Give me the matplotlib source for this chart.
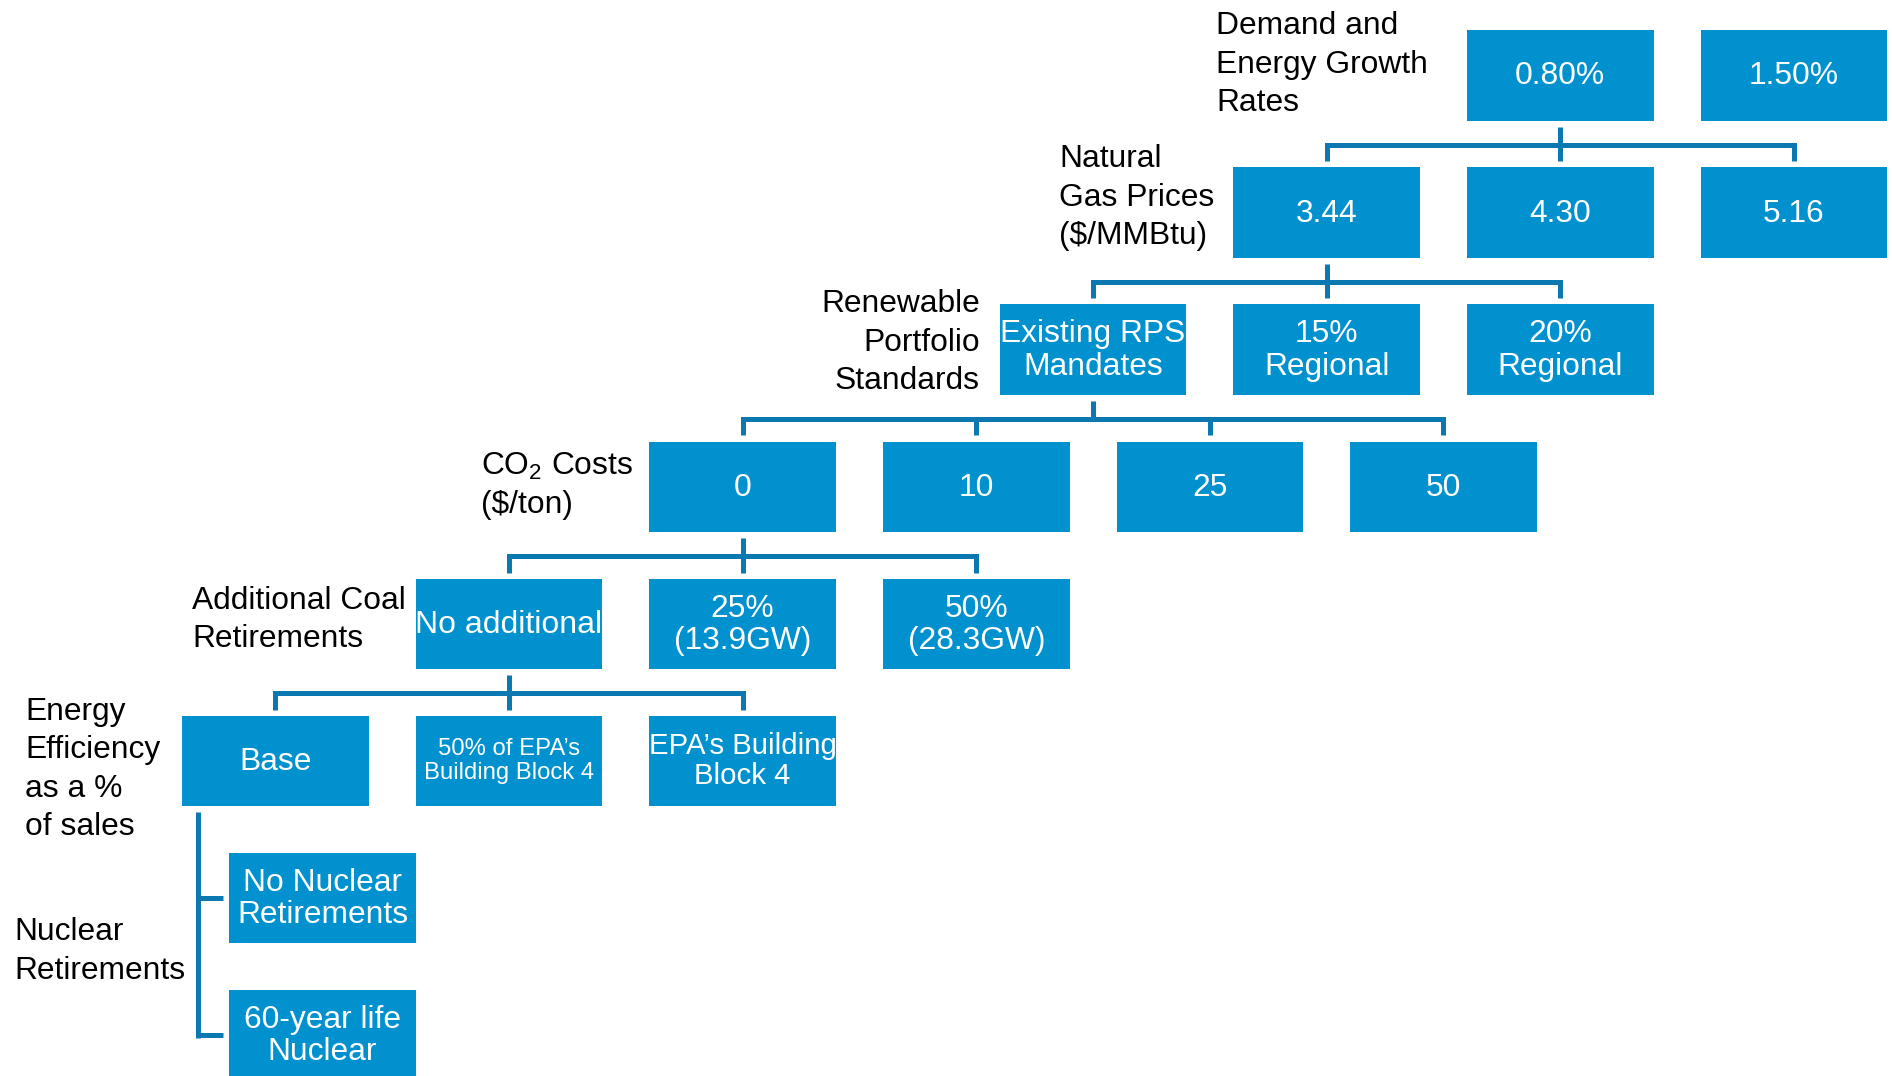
import matplotlib
matplotlib.use("Agg")
import matplotlib.pyplot as plt
from matplotlib.patches import Rectangle

plt.rcParams['font.family'] = ['Liberation Sans', 'DejaVu Sans']
plt.rcParams['mathtext.fontset'] = 'custom'
plt.rcParams['mathtext.rm'] = 'Liberation Sans'

# ---------------- data ----------------
demand_growth = ["0.80%", "1.50%"]
gas_prices = ["3.44", "4.30", "5.16"]
rps_options = ["Existing RPS\nMandates", "15%\nRegional", "20%\nRegional"]
co2_costs = ["0", "10", "25", "50"]
coal_retirements = ["No additional", "25%\n(13.9GW)", "50%\n(28.3GW)"]
efficiency = ["Base", "50% of EPA’s\nBuilding Block 4", "EPA’s Building\nBlock 4"]
nuclear = ["No Nuclear\nRetirements", "60-year life\nNuclear"]

level_names = [
    "Demand and\nEnergy Growth\nRates",
    "Natural\nGas Prices\n($/MMBtu)",
    "Renewable\nPortfolio\nStandards",
    "CO$_\\mathregular{2}$ Costs\n($/ton)",
    "Additional Coal\nRetirements",
    "Energy\nEfficiency\nas a %\nof sales",
    "Nuclear\nRetirements",
]
levels = [demand_growth, gas_prices, rps_options, co2_costs, coal_retirements, efficiency]
branch_parent = [0, 0, 0, 0, 0, 0]  # which option branches into the next level

# ---------------- layout / style ----------------
W, H = 1892, 1076
BOX = '#0091CE'
LINE = '#0C78B2'
PX = 100 / 72.0
FS = 22.9
X0, STEP, BW = 182.2, 233.6, 186.5
Y0, RSTEP, BH = 30.2, 137.1, 90.5
level_cols = [5.5, 4.5, 3.5, 2, 1, 0]
font_override = {(4, 0): 23.0, (5, 1): 17.2, (5, 2): 21.2}
label_pos = [(1216, 'left', 22.9), (1059, 'left', 155.9), (980, 'right', 300.7),
             (481, 'left', 463.5), (192, 'left', 597.5), (25, 'left', 708.3),
             (14, 'left', 929.0)]
LSTEP = 38.4
LW = 5 / PX

fig = plt.figure(figsize=(W / 100, H / 100), dpi=100)
ax = fig.add_axes([0, 0, 1, 1])
ax.set_xlim(0, W)
ax.set_ylim(H, 0)
ax.axis('off')


def box(x, y, text, fs):
    ax.add_patch(Rectangle((x, y), BW, BH, facecolor=BOX, edgecolor='none'))
    lines = text.split('\n')
    em = fs * PX
    n = len(lines)
    cy = y + BH / 2
    for i, ln in enumerate(lines):
        yc = cy + (i - (n - 1) / 2) * 1.02 * em
        ax.text(x + BW / 2, yc + 0.36 * em - 2.4, ln, color='white', fontsize=fs,
                ha='center', va='baseline')


def vline(x, y0, y1):
    ax.plot([x, x], [y0, y1], color=LINE, lw=LW, solid_capstyle='butt')


def hline(x0, x1, y):
    ax.plot([x0, x1], [y, y], color=LINE, lw=LW, solid_capstyle='projecting')


centers = []
for li, opts in enumerate(levels):
    top = Y0 + RSTEP * li
    cs = []
    for j, t in enumerate(opts):
        x = X0 + STEP * (level_cols[li] + j)
        box(x, top, t, font_override.get((li, j), FS))
        cs.append(x + BW / 2)
    centers.append((cs, top))

# brackets between levels
for li in range(len(levels) - 1):
    pcs, ptop = centers[li]
    ccs, ctop = centers[li + 1]
    px = pcs[branch_parent[li]]
    pb = ptop + BH
    ym = (pb + ctop) / 2 + 0.5
    vline(px, pb + 6, ym)
    hline(min(ccs), max(ccs), ym)
    for cx in ccs:
        vline(cx, ym, ctop - 6)

# nuclear options (vertical branch from Base)
ee_cs, ee_top = centers[-1]
nx = 229.3
ntops = []
for k, t in enumerate(nuclear):
    ntop = Y0 + RSTEP * (len(levels) + k)
    box(nx, ntop, t, FS)
    ntops.append(ntop + BH / 2)
vx = 197.5
vline(vx, ee_top + BH + 6, ntops[-1] + LW * PX / 2)
for yc in ntops:
    ax.plot([vx, nx - 6], [yc, yc], color=LINE, lw=LW, solid_capstyle='butt')

# level labels
for name, (lx, ha, y1) in zip(level_names, label_pos):
    em = FS * PX
    for i, ln in enumerate(name.split('\n')):
        ax.text(lx, y1 + i * LSTEP + 0.36 * em, ln, fontsize=FS, color='#000000',
                ha=ha, va='baseline')

fig.savefig('out.png', dpi=100)
